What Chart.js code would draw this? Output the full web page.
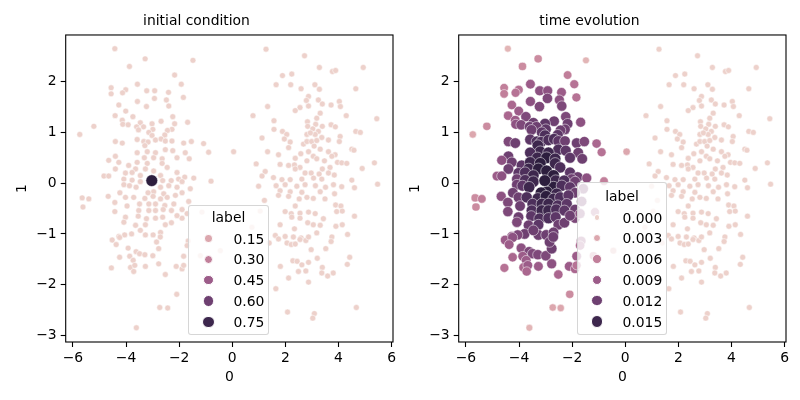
<!DOCTYPE html>
<html><head><meta charset="utf-8">
<script src="https://cdn.jsdelivr.net/npm/chart.js@4.4.1/dist/chart.umd.min.js"></script>
<style>
html,body{margin:0;padding:0;background:#fff;}
body{width:800px;height:400px;overflow:hidden;position:relative;font-family:'DejaVu Sans',sans-serif;}
canvas{position:absolute;top:0;}
.leg{position:absolute;background:rgba(255,255,255,0.8);border:1px solid rgba(204,204,204,0.8);border-radius:3px;box-sizing:border-box;font-size:13.9px;color:#000;}
.leg div{position:absolute;white-space:nowrap;line-height:16px;}
.dot{border-radius:50%;box-sizing:border-box;border:0.5px solid #fff;}
</style></head>
<body>
<canvas id="c0" width="400" height="400" style="left:0px;width:400px;height:400px"></canvas>
<canvas id="c1" width="400" height="400" style="left:393px;width:400px;height:400px"></canvas>
<script>
const titles = ['initial condition', 'time evolution'];
const xLabel = '0', yLabel = '1';
const xTicks = [-6,-4,-2,0,2,4,6];
const yTicks = [-3,-2,-1,0,1,2];
const legendTitle = 'label';
const legendInitial = [0.15,0.30,0.45,0.60,0.75];
const legendEvolved = [0.000,0.003,0.006,0.009,0.012,0.015];

// left cluster: [x, y, label after time evolution]
const leftCluster = [
[-4.42,2.65,.002],[-3.28,2.45,.005],[-1.48,2.42,.002],[-3.87,2.30,.005],[-2.17,2.13,.006],[-3.57,1.95,.009],[-1.92,1.95,.007],[-4.56,1.88,.006],[-4.01,1.84,.007],[-3.22,1.82,.010],
[-2.92,1.82,.010],[-2.40,1.79,.009],[-4.56,1.76,.006],[-4.13,1.78,.007],[-1.84,1.69,.007],[-2.93,1.67,.011],[-2.48,1.64,.010],[-3.57,1.61,.010],[-4.27,1.54,.008],[-3.23,1.51,.011],
[-2.39,1.52,.011],[-4.01,1.42,.009],[-4.41,1.33,.008],[-3.74,1.31,.011],[-2.24,1.31,.011],[-4.14,1.24,.009],[-2.68,1.22,.012],[-3.46,1.19,.012],[-3.02,1.17,.013],[-1.68,1.20,.010],
[-2.17,1.17,.012],[-4.12,1.16,.010],[-3.92,1.15,.011],[-5.21,1.12,.005],[-3.60,1.11,.012],[-3.34,1.11,.012],[-3.53,1.05,.012],[-2.99,1.06,.013],[-2.27,1.06,.012],[-2.44,1.04,.012],
[-3.14,1.00,.013],[-5.74,0.96,.003],[-3.02,0.94,.014],[-2.54,0.95,.013],
[-4.40,0.82,.011],[-4.14,0.79,.012],[-3.58,0.86,.013],[-3.33,0.82,.014],[-3.17,0.81,.014],[-2.89,0.85,.014],[-2.68,0.87,.014],[-2.52,0.83,.013],[-2.27,0.83,.012],[-1.83,0.79,.012],
[-1.54,0.82,.011],[-1.08,0.78,.008],[-3.29,0.74,.015],[-2.52,0.66,.014],[-2.24,0.64,.013],[-3.20,0.62,.015],[-2.89,0.60,.015],[-3.58,0.60,.014],[-1.77,0.60,.012],[-0.89,0.61,.007],
[0.05,0.62,.003],[-4.40,0.53,.012],[-3.31,0.50,.015],[-2.96,0.50,.016],[-2.64,0.48,.015],[-2.08,0.50,.013],[-1.62,0.48,.012],[-4.65,0.45,.010],[-4.27,0.41,.012],[-3.90,0.35,.013],
[-3.58,0.41,.015],[-3.20,0.39,.016],[-2.64,0.39,.015],[-2.45,0.31,.014],[-4.40,0.28,.012],[-3.64,0.28,.015],[-3.27,0.28,.016],[-2.96,0.24,.016],[-4.83,0.14,.009],[-4.65,0.14,.010],
[-4.02,0.20,.013],[-3.77,0.21,.014],[-2.08,0.21,.013],[-1.79,0.12,.012],[-1.45,0.10,.010],[-2.02,0.08,.012],[-3.46,0.15,.015],[-2.70,0.15,.016],[-4.08,0.08,.012],[-3.77,0.06,.014],
[-3.46,0.03,.015],[-2.62,0.05,.015],[-2.30,0.05,.014],[-1.89,0.03,.012],[-0.80,0.04,.006],[-4.08,-0.03,.012],[-3.87,-0.05,.013],[-3.62,-0.08,.015],[-2.70,-0.08,.016],[-2.39,-0.05,.014],
[-2.08,-0.08,.013],[-1.58,-0.11,.011],[-2.96,-0.17,.016],[-4.23,-0.19,.012],[-3.17,-0.19,.016],[-2.58,-0.21,.015],[-1.89,-0.19,.012],[-5.65,-0.29,.005],[-5.40,-0.31,.006],[-4.67,-0.26,.010],
[-4.02,-0.28,.012],[-3.71,-0.28,.014],[-3.29,-0.30,.015],[-2.98,-0.26,.016],[-2.70,-0.31,.015],[-2.45,-0.28,.014],[-2.14,-0.24,.013],[-5.62,-0.47,.005],[-4.42,-0.38,.011],[-3.96,-0.45,.012],
[-3.49,-0.41,.014],[-3.14,-0.41,.015],[-2.89,-0.41,.015],[-2.54,-0.44,.014],[-2.20,-0.41,.013],[-1.64,-0.36,.011],[-1.89,-0.52,.012],[-4.42,-0.56,.011],[-3.52,-0.54,.014],[-3.14,-0.54,.015],
[-2.89,-0.54,.015],[-2.60,-0.52,.014],[-2.29,-0.54,.013],[-4.02,-0.67,.012],[-3.54,-0.65,.013],[-3.23,-0.70,.014],[-2.89,-0.69,.014],[-2.62,-0.67,.013],[-4.08,-0.77,.011],[-3.64,-0.83,.012],
[-3.27,-0.82,.013],[-2.52,-0.82,.012],[-2.29,-0.78,.012],[-1.89,-0.69,.011],[-3.79,-1.00,.012],[-4.27,-1.05,.010],[-4.05,-1.02,.011],[-3.27,-1.02,.012],[-2.98,-1.02,.012],[-2.70,-0.97,.012],
[-3.46,-0.93,.012],[-2.08,-0.64,.012],[-1.70,-0.60,.010],
[-4.52,-1.12,.009],[-4.24,-1.07,.010],[-4.37,-1.21,.009],[-3.92,-1.28,.010],[-3.62,-1.35,.011],[-3.49,-1.39,.011],[-3.29,-1.41,.011],[-2.99,-1.43,.011],[-2.77,-1.29,.012],[-2.85,-1.16,.012],
[-2.71,-1.06,.012],[-4.24,-1.46,.008],[-3.86,-1.44,.009],[-3.73,-1.52,.009],[-3.83,-1.66,.008],[-3.67,-1.62,.009],[-3.71,-1.74,.008],[-3.27,-1.64,.009],[-2.77,-1.59,.010],[-4.55,-1.67,.007],
[-2.52,-1.80,.008],[-2.11,-1.64,.009],[-1.89,-1.69,.008],[-1.83,-1.44,.009],[-1.66,-1.14,.009],[-2.09,-2.19,.005],[-2.73,-2.45,.003],[-2.43,-2.46,.003],[-3.61,-2.85,.002],[-1.20,-1.43,.005],
[-0.45,-1.33,.002],[-1.14,-0.57,.007],[-1.70,-1.23,.008],[-1.83,-1.62,.007]
];
// the source point: [x, y]
const hotPoint = [-3.03, 0.05];
const hotLabelInitial = 0.8;
const hotLabelEvolved = 0.016;

// right cluster: [x, y], label 0 in both panels
const rightCluster = [
[1.27,2.64],[2.72,2.51],[3.28,2.28],[3.77,2.20],[3.89,2.22],[4.93,2.28],[1.89,2.12],[2.24,2.15],[1.65,1.94],[2.20,1.94],
[2.59,1.86],[3.11,1.94],[3.28,1.85],[4.65,1.86],[2.87,1.71],[2.79,1.63],[3.24,1.64],[3.39,1.56],[3.72,1.54],[4.03,1.61],
[4.07,1.51],[2.87,1.52],[2.55,1.49],[2.37,1.43],[1.33,1.51],[0.78,1.33],[3.31,1.38],[3.18,1.28],[4.29,1.33],[5.44,1.27],
[1.57,1.23],[2.83,1.21],[3.14,1.16],[3.39,1.12],[2.84,1.12],[3.72,1.15],[3.88,1.11],[3.03,1.07],[3.24,1.02],[1.57,1.06],
[1.89,1.02],[2.05,0.96],[2.81,0.96],[3.12,0.96],[2.94,0.99],[4.06,0.92],[4.65,1.02],[4.82,1.00],[1.12,0.89],[1.96,0.87],
[3.37,0.90],[3.62,0.85],
[2.18,0.81],[2.68,0.77],[2.81,0.82],[2.99,0.82],[3.18,0.84],[4.03,0.82],[2.12,0.70],[3.08,0.73],[3.31,0.67],[1.33,0.62],
[2.58,0.58],[2.87,0.62],[3.62,0.62],[3.87,0.56],[4.50,0.67],[4.58,0.65],[1.74,0.56],[2.37,0.49],[2.81,0.44],[3.05,0.53],
[3.18,0.48],[3.47,0.44],[3.75,0.53],[3.96,0.41],[4.12,0.40],[4.31,0.39],[0.90,0.38],[1.80,0.37],[2.12,0.35],[2.34,0.36],
[2.55,0.31],[3.39,0.28],[3.68,0.31],[4.89,0.29],[5.35,0.40],[1.24,0.23],[2.37,0.28],[2.74,0.20],[2.97,0.20],[3.27,0.18],
[3.62,0.20],[3.84,0.16],[1.12,0.14],[1.55,0.11],[1.87,0.07],[2.18,0.07],[2.62,0.08],[3.06,0.10],[3.37,0.08],[4.50,0.06],
[5.47,-0.02],[0.99,-0.06],[1.65,-0.05],[1.99,-0.03],[2.43,-0.06],[2.74,-0.03],[3.13,-0.05],[3.51,-0.08],[3.81,-0.03],[4.12,-0.07],
[4.60,-0.09],[1.80,-0.15],[2.18,-0.17],[2.62,-0.18],[3.31,-0.17],[3.85,-0.21],[1.74,-0.24],[2.12,-0.26],[2.52,-0.31],[2.81,-0.28],
[3.05,-0.30],[3.49,-0.31],[1.21,-0.34],[3.89,-0.43],[4.09,-0.45],[2.37,-0.45],[1.99,-0.56],[2.22,-0.60],[2.55,-0.59],[2.87,-0.57],
[3.12,-0.60],[3.43,-0.70],[3.93,-0.56],[4.14,-0.55],[4.60,-0.65],[2.24,-0.67],[2.55,-0.69],[2.84,-0.78],[3.05,-0.82],[3.31,-0.83],
[1.80,-0.82],[2.34,-0.90],[3.18,-0.98],[3.90,-0.85],[4.14,-0.82],[4.34,-1.01],[1.99,-1.05],[2.30,-1.06],[2.59,-1.08],[3.75,-1.06],
[1.05,-0.55],[0.74,-0.87],[1.62,-1.03],
[1.74,-1.10],[2.06,-1.18],[2.22,-1.21],[2.37,-1.20],[2.55,-1.11],[2.77,-1.13],[2.87,-1.06],[1.39,-1.18],[2.97,-1.31],[3.52,-1.29],
[3.72,-1.15],[1.81,-1.64],[2.28,-1.53],[2.44,-1.54],[2.62,-1.61],[2.49,-1.74],[2.77,-1.73],[2.87,-1.56],[2.87,-1.95],[3.20,-1.48],
[3.39,-1.66],[3.37,-1.77],[3.59,-1.83],[3.80,-1.77],[4.33,-1.60],[4.42,-1.46],[2.12,-1.87],[1.64,-2.08],[2.08,-2.54],[3.09,-2.57],
[3.03,-2.66],[4.67,-2.45]
];

// seaborn default "ch:" cubehelix colormap (light -> dark)
function cubehelix(x){
  const a = 0.8*x*(1-x)/2, phi = 2*Math.PI*(0.4*x);
  const c = Math.cos(phi), s = Math.sin(phi);
  const cl = v => Math.round(Math.max(0,Math.min(1,v))*255);
  return 'rgb('+cl(x+a*(-0.14861*c+1.78277*s))+','+cl(x+a*(-0.29227*c-0.90649*s))+','+cl(x+a*(1.97294*c))+')';
}
function cmap(t){ return cubehelix(0.85-0.7*Math.max(0,Math.min(1,t))); }
function rad(t){ return Math.sqrt(18+54*Math.max(0,Math.min(1,t)))*(100/72)/2; }
const fmt = v => (v<0 ? '\u2212'+Math.abs(v) : String(v));
const FONT = {family:'DejaVu Sans', size:13.9, weight:'normal'};

const frame = {id:'frame', afterDatasetsDraw(chart){
  const {ctx, chartArea:a} = chart;
  ctx.save(); ctx.strokeStyle='#000'; ctx.lineWidth=1.1;
  ctx.strokeRect(a.left, a.top, a.right-a.left, a.bottom-a.top); ctx.restore();
}};

function makeChart(id, title, points, vmax){
  return new Chart(document.getElementById(id), {
    type:'scatter',
    data:{datasets:[{data:points,
      pointBackgroundColor: c => cmap(c.raw.l/vmax),
      pointRadius: c => rad(c.raw.l/vmax),
      pointHoverRadius: c => rad(c.raw.l/vmax),
      pointBorderColor:'#ffffff', pointBorderWidth:0.5, clip:false}]},
    options:{
      responsive:false, animation:false, devicePixelRatio:1, events:[],
      layout:{padding:{left:0,right:7,top:0,bottom:0}},
      plugins:{legend:{display:false}, tooltip:{enabled:false},
        title:{display:true, text:title, color:'#000', font:FONT, padding:{top:12.7,bottom:5.6}}},
      scales:{
        x:{type:'linear', min:-6.27, max:6.05,
          afterBuildTicks: s => { s.ticks = xTicks.map(v=>({value:v})); },
          afterFit: s => { s.height = 58; },
          grid:{drawOnChartArea:false, drawTicks:true, tickLength:5, color:'#000', tickColor:'#000', tickWidth:1.1},
          border:{display:false},
          ticks:{color:'#000', font:FONT, padding:3, maxRotation:0, autoSkip:false, callback: v => fmt(v)},
          title:{display:true, text:xLabel, color:'#000', font:FONT, padding:{top:0,bottom:14.7}}},
        y:{type:'linear', min:-3.13, max:2.92,
          afterBuildTicks: s => { s.ticks = yTicks.map(v=>({value:v})); },
          afterFit: s => { s.width = 65.7; },
          grid:{drawOnChartArea:false, drawTicks:true, tickLength:5, color:'#000', tickColor:'#000', tickWidth:1.1},
          border:{display:false},
          ticks:{color:'#000', font:FONT, padding:4, autoSkip:false, callback: v => fmt(v)},
          title:{display:true, text:yLabel, color:'#000', font:FONT, padding:{top:13.7,bottom:0}}}
      }
    },
    plugins:[frame]
  });
}

const initPts = leftCluster.map(p=>({x:p[0],y:p[1],l:0}))
  .concat(rightCluster.map(p=>({x:p[0],y:p[1],l:0})))
  .concat([{x:hotPoint[0],y:hotPoint[1],l:hotLabelInitial}]);
const evoPts = leftCluster.map(p=>({x:p[0],y:p[1],l:p[2]}))
  .concat([{x:hotPoint[0],y:hotPoint[1],l:hotLabelEvolved}])
  .concat(rightCluster.map(p=>({x:p[0],y:p[1],l:0})));

makeChart('c0', titles[0], initPts, hotLabelInitial);
makeChart('c1', titles[1], evoPts, hotLabelEvolved);

function buildLegend(box, vals, digits, vmax){
  const d = document.createElement('div'); d.className='leg';
  Object.assign(d.style,{left:box.l+'px',top:box.t+'px',width:box.w+'px',height:box.h+'px'});
  const t = document.createElement('div'); t.textContent = legendTitle;
  Object.assign(t.style,{left:'0px',width:(box.w-2)+'px',textAlign:'center',top:(box.ty-8)+'px'});
  d.appendChild(t);
  vals.forEach((v,i)=>{
    const y = box.ry + i*box.step;
    const r = rad(v/vmax) + 0.4;
    const m = document.createElement('div'); m.className='dot';
    Object.assign(m.style,{left:(box.mx-r)+'px',top:(y-r)+'px',width:(2*r)+'px',height:(2*r)+'px',background:cmap(v/vmax)});
    d.appendChild(m);
    const s = document.createElement('div'); s.textContent = v.toFixed(digits);
    Object.assign(s.style,{left:box.tx+'px',top:(y-8)+'px'});
    d.appendChild(s);
  });
  document.body.appendChild(d);
}
buildLegend({l:188,t:205,w:81,h:130,ty:11,ry:32.5,step:20.8,mx:19.5,tx:44.5}, legendInitial, 2, hotLabelInitial);
buildLegend({l:577,t:182,w:90,h:153,ty:13,ry:34.5,step:20.8,mx:19,tx:44.5}, legendEvolved, 3, hotLabelEvolved);
</script>
</body></html>
